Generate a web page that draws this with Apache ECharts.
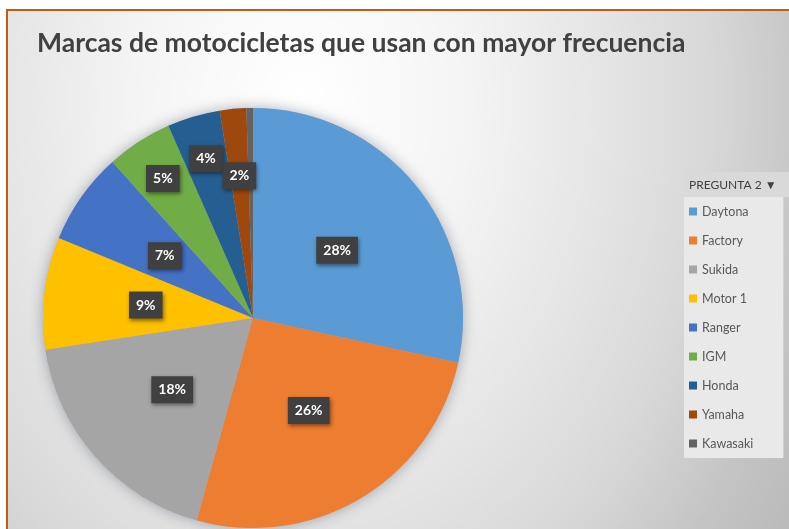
<!DOCTYPE html>
<html>
<head>
<meta charset="utf-8">
<script src="https://cdn.jsdelivr.net/npm/echarts@6/dist/echarts.min.js"></script>
<style>
  html, body { margin: 0; padding: 0; width: 789px; height: 529px; overflow: hidden; background: #fff; }
  #marco {
    position: absolute; left: 6px; top: 9px; width: 900px; height: 700px;
    border-left: 2px solid #c55a11; border-top: 2px solid #c55a11;
    background: radial-gradient(ellipse 600px 800px at 294px 91px,
      #ffffff 0%, #f4f4f4 28%, #e3e3e3 53%, #d8d8d8 68%, #c4c4c4 85%, #b8b8b8 100%);
  }
  #main { position: absolute; left: 0; top: 0; width: 789px; height: 529px; }
</style>
</head>
<body>
<div id="marco"></div>
<div id="main"></div>
<script>
const titulo = 'Marcas de motocicletas que usan con mayor frecuencia'
const campo = 'PREGUNTA 2 ▼'
const marcas = ['Daytona', 'Factory', 'Sukida', 'Motor 1', 'Ranger', 'IGM', 'Honda', 'Yamaha', 'Kawasaki']
const respuestas = [56, 51, 36, 17, 14, 10, 8, 4, 1]
const colores = ['#5b9bd5', '#ed7d31', '#a5a5a5', '#ffc000', '#4472c4', '#70ad47', '#255e91', '#9e480e', '#636363']
// dónde va cada etiqueta: al medio del radio, más afuera, o un poco afuera; Kawasaki sin etiqueta
const etiquetaDentro = [true, true, true, true, true, false, false, false, false]
const etiquetaFuera = [false, false, false, false, false, true, true, false, false]
const etiquetaMedia = [false, false, false, false, false, false, false, true, false]

const FUENTE = 'Lato, "Open Sans", sans-serif'
const CENTRO = [253, 318]
const RADIO = 210

const estiloEtiqueta = {
  position: 'inside',
  formatter: p => Math.round(p.percent) + '%',
  color: '#fff',
  fontFamily: FUENTE,
  fontWeight: 'bold',
  fontSize: 14,
  backgroundColor: '#404040',
  padding: [7, 7, 6, 7],
  shadowBlur: 4,
  shadowColor: 'rgba(0,0,0,0.45)',
  shadowOffsetX: 1,
  shadowOffsetY: 2
}

const datos = (mostrar, color) => marcas.map((m, i) => ({
  name: m,
  value: respuestas[i],
  itemStyle: { color: color || colores[i] },
  label: { show: !!(mostrar && mostrar[i]) }
}))

const base = {
  type: 'pie',
  center: CENTRO,
  startAngle: 90,
  avoidLabelOverlap: false,
  labelLayout: { hideOverlap: false },
  labelLine: { show: false },
  emphasis: { disabled: true },
  animation: false
}

// anillo transparente que solo sirve para ubicar etiquetas de porciones chicas
const anillo = (nombre, interior, mostrar) => Object.assign({}, base, {
  name: nombre,
  z: 4,
  silent: true,
  radius: [interior, RADIO],
  label: estiloEtiqueta,
  data: datos(mostrar, 'rgba(0,0,0,0)')
})

const chart = echarts.init(document.getElementById('main'))
chart.setOption({
  title: {
    text: titulo,
    left: 32,
    top: 25,
    textStyle: { fontFamily: FUENTE, fontSize: 26.5, fontWeight: 'bold', color: '#404040' }
  },
  legend: {
    data: marcas,
    orient: 'vertical',
    left: 684,
    top: 197,
    padding: [8, 30, 8, 5],
    backgroundColor: '#e9e9e9',
    icon: 'rect',
    itemWidth: 8,
    itemHeight: 8,
    itemGap: 16,
    textStyle: { fontFamily: FUENTE, fontSize: 12.5, color: '#595959' }
  },
  graphic: [{
    type: 'group',
    left: 684,
    top: 172,
    children: [
      { type: 'rect', shape: { x: 0, y: 0, width: 105, height: 25 }, style: { fill: '#d9d9d9' } },
      { type: 'text', x: 5, y: 13, style: { text: campo, font: '12px ' + FUENTE, fill: '#404040', verticalAlign: 'middle' } }
    ]
  }],
  series: [
    Object.assign({}, base, {
      name: 'PREGUNTA 2',
      z: 3,
      radius: RADIO,
      label: estiloEtiqueta,
      data: datos(etiquetaDentro)
    }),
    // halo de sombra detrás del pastel
    Object.assign({}, base, {
      name: 'sombra',
      z: 2,
      silent: true,
      radius: RADIO,
      label: { show: false },
      itemStyle: { shadowBlur: 14, shadowColor: 'rgba(50,60,80,0.4)' },
      data: datos(null, '#b0b4ba')
    }),
    anillo('fuera', 116, etiquetaFuera),
    anillo('media', 70, etiquetaMedia)
  ]
})
</script>
</body>
</html>
